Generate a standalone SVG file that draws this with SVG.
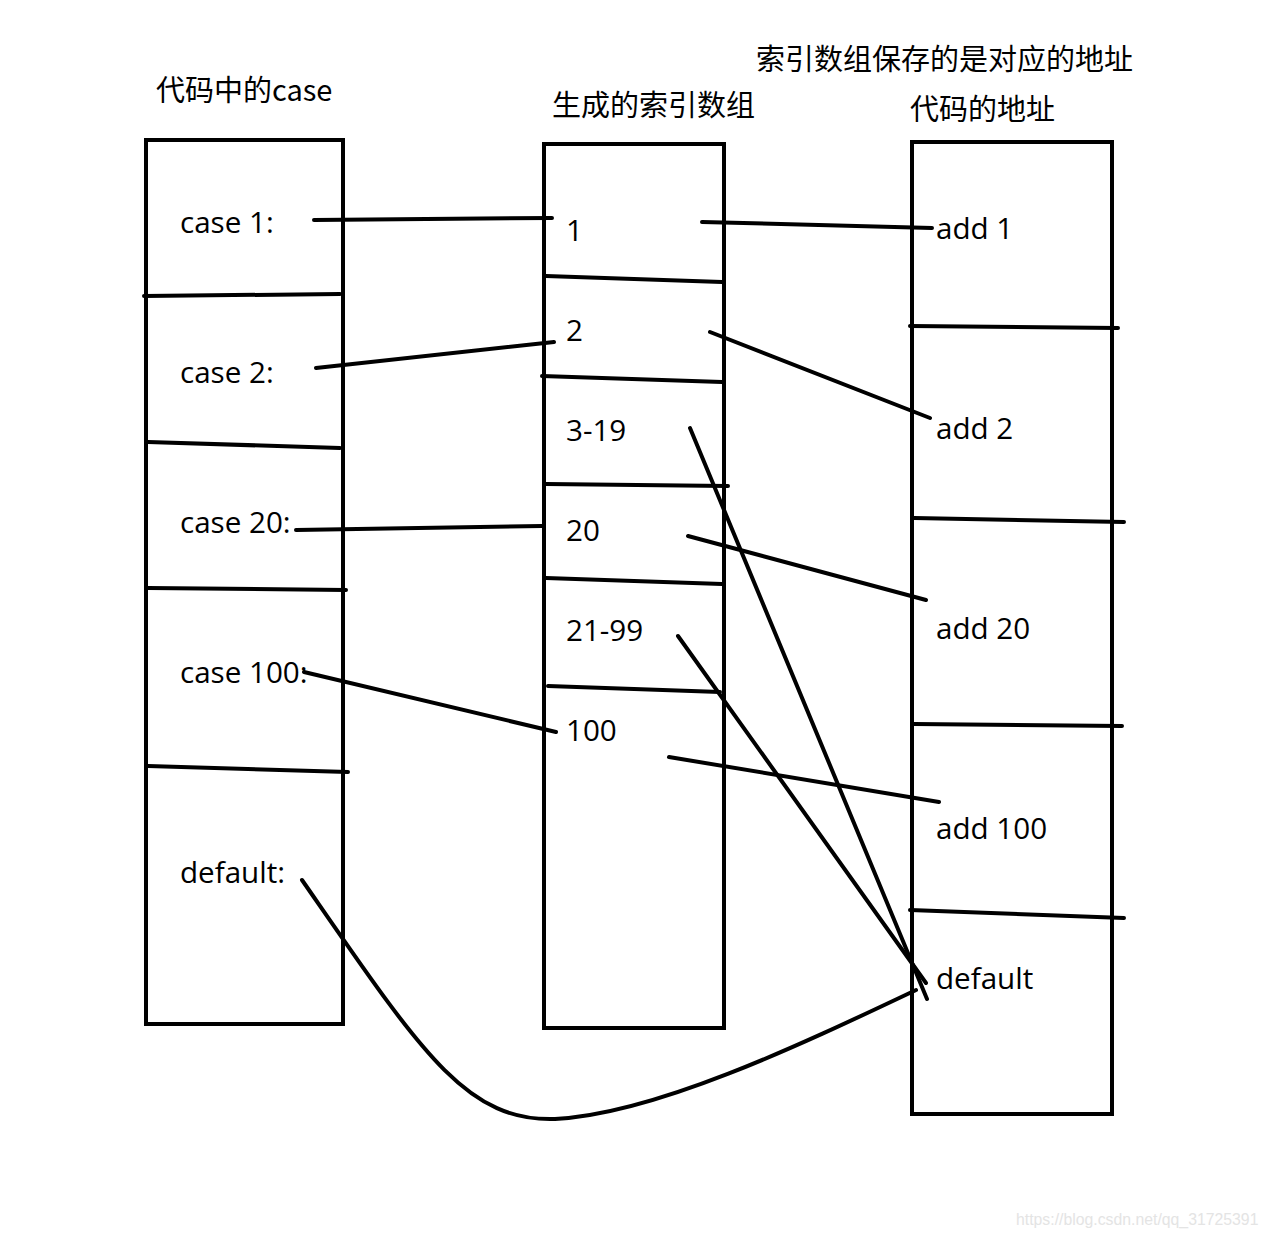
<svg xmlns="http://www.w3.org/2000/svg" width="1266" height="1238" viewBox="0 0 1266 1238">
<style>
.box{fill:none;stroke:#000;stroke-width:4}
.div{fill:none;stroke:#000;stroke-width:4;stroke-linecap:round}
.con{fill:none;stroke:#000;stroke-width:4;stroke-linecap:round}
.t{font-family:"Open Sans","Noto Sans",sans-serif;font-size:29.6px;fill:#000}
.h{font-family:"Noto Sans CJK SC","Noto Sans",sans-serif;font-size:29px;fill:#000}
.wm{font-family:"Liberation Sans",Arial,sans-serif;font-size:15.8px;fill:#e4e4e4}
</style>
<rect width="1266" height="1238" fill="#fff"/>
<g id="titles">
<text class="h" x="156" y="101">代码中的case</text>
<text class="h" x="552" y="116">生成的索引数组</text>
<text class="h" x="756" y="70">索引数组保存的是对应的地址</text>
<text class="h" x="910" y="120">代码的地址</text>
</g>
<g id="case-table">
<rect class="box" x="146" y="140" width="197" height="884"/>
<path class="div" d="M144,296 L340,294 M148,442 L340,448 M148,588 L346,590 M148,766 L348,772"/>
<text class="t" x="180" y="233">case 1:</text>
<text class="t" x="180" y="383">case 2:</text>
<text class="t" x="180" y="533">case 20:</text>
<text class="t" x="180" y="683">case 100:</text>
<text class="t" x="180" y="883">default:</text>
</g>
<g id="index-array">
<rect class="box" x="544" y="144" width="180" height="884"/>
<path class="div" d="M546,276 L722,282 M542,376 L722,382 M546,484 L728,486 M546,578 L722,584 M548,686 L720,692"/>
<text class="t" x="566" y="241">1</text>
<text class="t" x="566" y="341">2</text>
<text class="t" x="566" y="441">3-19</text>
<text class="t" x="566" y="541">20</text>
<text class="t" x="566" y="641">21-99</text>
<text class="t" x="566" y="741">100</text>
</g>
<g id="address-table">
<rect class="box" x="912" y="142" width="200" height="972"/>
<path class="div" d="M910,326 L1118,328 M914,518 L1124,522 M914,724 L1122,726 M910,910 L1124,918"/>
<text class="t" x="936" y="239">add 1</text>
<text class="t" x="936" y="439">add 2</text>
<text class="t" x="936" y="639">add 20</text>
<text class="t" x="936" y="839">add 100</text>
<text class="t" x="936" y="989">default</text>
</g>
<g id="connectors">
<path class="con" d="M314,220 L552,218"/>
<path class="con" d="M316,368 L554,342"/>
<path class="con" d="M296,530 L542,526"/>
<path class="con" d="M304,672 L556,732"/>
<path class="con" d="M302,880 C420,1050 465,1122 555,1119 C655,1114 800,1045 916,990"/>
<path class="con" d="M702,222 L932,228"/>
<path class="con" d="M710,332 L930,418"/>
<path class="con" d="M690,428 L927,999"/>
<path class="con" d="M688,536 L926,600"/>
<path class="con" d="M678,636 L926,983"/>
<path class="con" d="M669,757 L939,802"/>
</g>
<text class="wm" x="1016" y="1225">https://blog.csdn.net/qq_31725391</text>
</svg>
